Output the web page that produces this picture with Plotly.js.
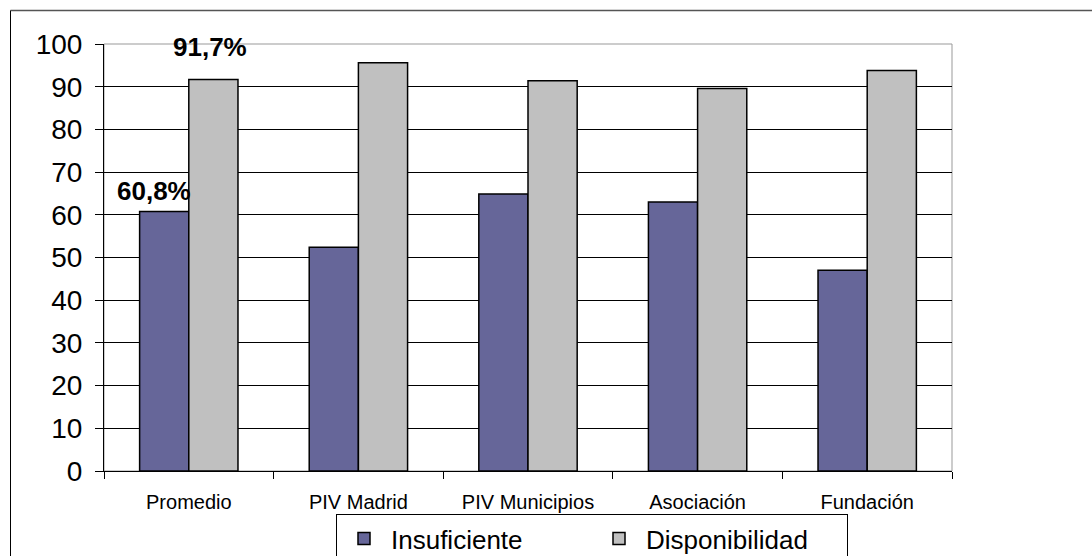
<!DOCTYPE html>
<html>
<head>
<meta charset="utf-8">
<script src="https://cdn.plot.ly/plotly-3.0.1.min.js"></script>
<style>html,body{margin:0;padding:0;background:#fff;}#chart{width:1092px;height:556px;}</style>
</head>
<body>
<div id="chart"></div>
<script>
var categories = ['Promedio', 'PIV Madrid', 'PIV Municipios', 'Asociación', 'Fundación'];
var insuficiente = [60.8, 52.4, 64.9, 63.0, 47.0];
var disponibilidad = [91.7, 95.6, 91.4, 89.6, 93.8];
var seriesNames = ['Insuficiente', 'Disponibilidad'];
var yTicks = [0, 10, 20, 30, 40, 50, 60, 70, 80, 90, 100];

var FONT = 'Arial, "Liberation Sans", sans-serif';
function fmt(v) { return v.toFixed(1).replace('.', ',') + '%'; }

var traces = [
  {
    type: 'bar', name: seriesNames[0], x: categories, y: insuficiente,
    marker: {color: '#666699', line: {color: '#000000', width: 1.5}},
    hoverinfo: 'x+y'
  },
  {
    type: 'bar', name: seriesNames[1], x: categories, y: disponibilidad,
    marker: {color: '#C0C0C0', line: {color: '#000000', width: 1.5}},
    hoverinfo: 'x+y'
  }
];

var annotations = [
  {x: categories[0], y: insuficiente[0], xref: 'x', yref: 'y', text: fmt(insuficiente[0]),
   showarrow: false, xanchor: 'center', yanchor: 'middle', xshift: -35, yshift: 20,
   font: {family: FONT, size: 26, color: '#000'}},
  {x: categories[0], y: disponibilidad[0], xref: 'x', yref: 'y', text: fmt(disponibilidad[0]),
   showarrow: false, xanchor: 'center', yanchor: 'middle', xshift: 21, yshift: 32,
   font: {family: FONT, size: 26, color: '#000'}}
].map(function(a){ a.text = '<b>' + a.text + '</b>'; return a; });

var L = 104, R = 952, T = 44, B = 471, W = 1092, H = 556;
function px2x(p) { return (p - L) / (R - L); }
function py2y(p) { return (B - p) / (B - T); }

var shapes = [
  // plot frame (gray top/right)
  {type: 'rect', xref: 'paper', yref: 'paper', x0: 0, x1: 1, y0: 0, y1: 1,
   line: {color: '#999999', width: 1}, layer: 'below'},
  // outer chart frame
  {type: 'line', xref: 'paper', yref: 'paper', x0: px2x(10.5), x1: px2x(W + 5), y0: py2y(10.5), y1: py2y(10.5),
   line: {color: '#555555', width: 1.5}},
  {type: 'line', xref: 'paper', yref: 'paper', x0: px2x(10.5), x1: px2x(10.5), y0: py2y(10.5), y1: py2y(H + 5),
   line: {color: '#000000', width: 1}}
];

var layout = {
  width: W, height: H,
  margin: {l: L, r: W - R, t: T, b: H - B, pad: 0, autoexpand: false},
  paper_bgcolor: '#ffffff', plot_bgcolor: '#ffffff',
  barmode: 'group', bargap: 0.42, bargroupgap: 0,
  font: {family: FONT, color: '#000'},
  showlegend: true,
  legend: {
    orientation: 'h', xref: 'container', yref: 'container',
    x: 336 / W, xanchor: 'left', y: 1 - 514 / H, yanchor: 'top',
    bordercolor: '#000000', borderwidth: 1, bgcolor: '#ffffff',
    font: {family: FONT, size: 26, color: '#000'},
    itemwidth: 44,
    entrywidth: 196, entrywidthmode: 'pixels', traceorder: 'normal'
  },
  xaxis: {
    type: 'category', showline: true, linecolor: '#000', linewidth: 1,
    ticks: 'outside', tickson: 'boundaries', ticklen: 7, tickcolor: '#000', tickwidth: 1,
    tickfont: {family: FONT, size: 20, color: '#000'}, ticklabelstandoff: 13,
    showgrid: false, zeroline: false, automargin: false
  },
  yaxis: {
    range: [0, 100], tickvals: yTicks, ticktext: yTicks.map(String),
    showline: true, linecolor: '#000', linewidth: 1,
    ticks: 'outside', ticklen: 8, tickcolor: '#000', tickwidth: 1,
    tickfont: {family: FONT, size: 28, color: '#000'}, ticklabelstandoff: 7,
    showgrid: true, gridcolor: '#000', gridwidth: 1, zeroline: false, automargin: false
  },
  annotations: annotations,
  shapes: shapes
};

Plotly.newPlot('chart', traces, layout, {displayModeBar: false, staticPlot: true});
</script>
</body>
</html>
